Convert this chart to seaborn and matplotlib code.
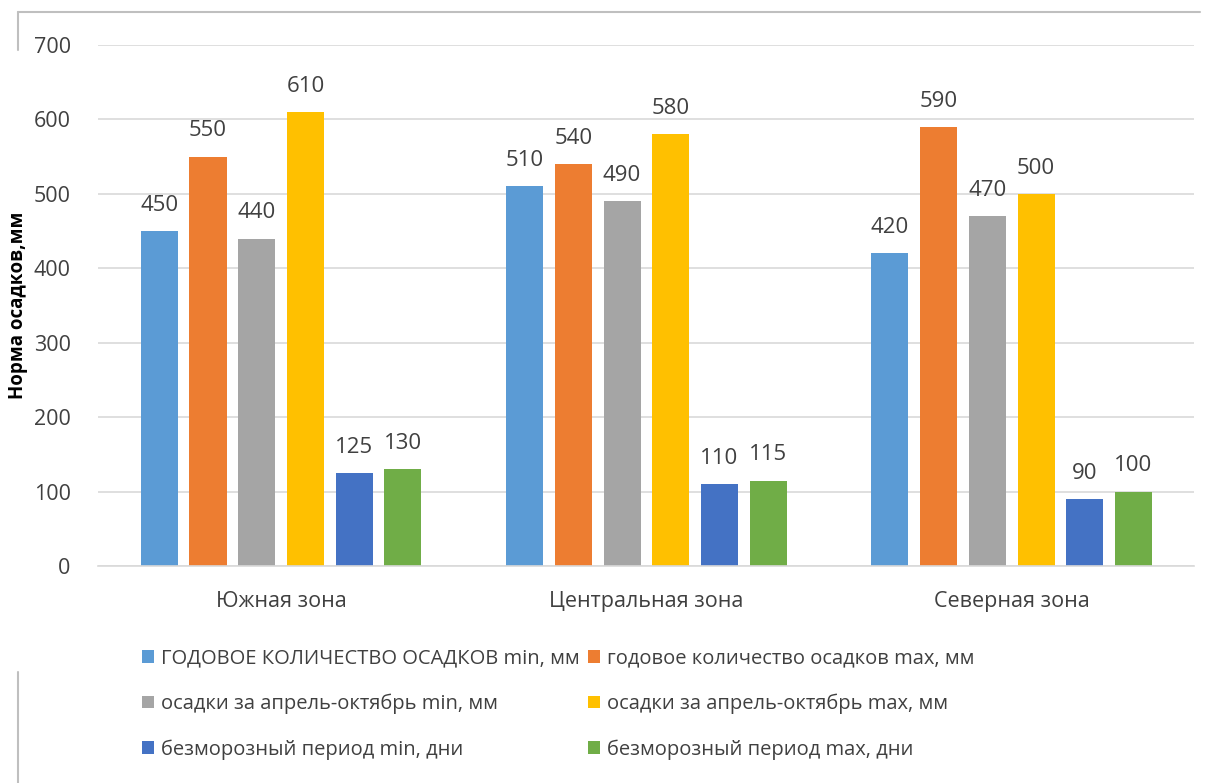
import matplotlib
matplotlib.use("Agg")
import matplotlib.pyplot as plt
import seaborn as sns
import pandas as pd
from matplotlib.lines import Line2D

zones = ["Южная зона", "Центральная зона", "Северная зона"]
series = [
    "ГОДОВОЕ КОЛИЧЕСТВО ОСАДКОВ min, мм",
    "годовое количество осадков max, мм",
    "осадки за апрель-октябрь min, мм",
    "осадки за апрель-октябрь max, мм",
    "безморозный период min, дни",
    "безморозный период max, дни",
]
annual_min = [450, 510, 420]
annual_max = [550, 540, 590]
season_min = [440, 490, 470]
season_max = [610, 580, 500]
frost_min = [125, 110, 90]
frost_max = [130, 115, 100]
colors = ["#5B9BD5", "#ED7D31", "#A5A5A5", "#FFC000", "#4472C4", "#70AD47"]

values = [annual_min, annual_max, season_min, season_max, frost_min, frost_max]
rows = []
for name, vals in zip(series, values):
    for zone, v in zip(zones, vals):
        rows.append({"zone": zone, "series": name, "value": v})
df = pd.DataFrame(rows)

sns.set_theme(style="white")
plt.rcParams["font.family"] = ["Open Sans", "DejaVu Sans"]

fig = plt.figure(figsize=(12.15, 7.83), dpi=100)
ax = fig.add_axes([0.081, 0.277, 0.902, 0.6655])

sns.barplot(data=df, x="zone", y="value", hue="series", hue_order=series,
            palette=colors, width=0.8, gap=0.24, saturation=1, ax=ax,
            legend=True, edgecolor="none")

for cont in ax.containers:
    ax.bar_label(cont, padding=11, fontsize=16, color="#404040")

ax.set_ylim(0, 700)
ax.set_xlim(-0.5, 2.5)
ax.set_yticks(range(0, 701, 100))
ax.yaxis.grid(True, color="#D9D9D9", linewidth=1.2)
ax.set_axisbelow(True)
for s in ["top", "right", "left"]:
    ax.spines[s].set_visible(False)
ax.spines["bottom"].set_color("#D9D9D9")
ax.spines["bottom"].set_linewidth(1.2)
ax.tick_params(axis="y", labelsize=15.5, labelcolor="#404040", length=0, pad=20)
ax.tick_params(axis="x", labelsize=15.5, labelcolor="#404040", length=0, pad=18)
ax.set_xlabel("")
ax.set_ylabel("Норма осадков,мм", fontsize=13.5, fontweight="bold", color="black")
ax.yaxis.set_label_coords(-0.064, 0.5)

handles, labels = ax.get_legend_handles_labels()
ax.get_legend().remove()
order = [0, 2, 4, 1, 3, 5]
fig.legend([handles[i] for i in order], [labels[i] for i in order],
           loc="upper left", bbox_to_anchor=(0.11, 0.182), ncol=2,
           frameon=False, fontsize=14.5, labelcolor="#404040",
           handlelength=0.6, handleheight=0.6, handletextpad=0.35,
           labelspacing=1.25, columnspacing=0.4, borderaxespad=0)

# faint border of the original chart frame
frame = "#BFBFBF"
fig.add_artist(Line2D([18 / 1215, 1200 / 1215], [1 - 12 / 783, 1 - 12 / 783],
                      color=frame, lw=1.5, transform=fig.transFigure))
fig.add_artist(Line2D([18 / 1215, 18 / 1215], [1 - 12 / 783, 1 - 50 / 783],
                      color=frame, lw=1.5, transform=fig.transFigure))
fig.add_artist(Line2D([18 / 1215, 18 / 1215], [1 - 672 / 783, 0],
                      color=frame, lw=1.5, transform=fig.transFigure))

fig.savefig("out.png", dpi=100)
